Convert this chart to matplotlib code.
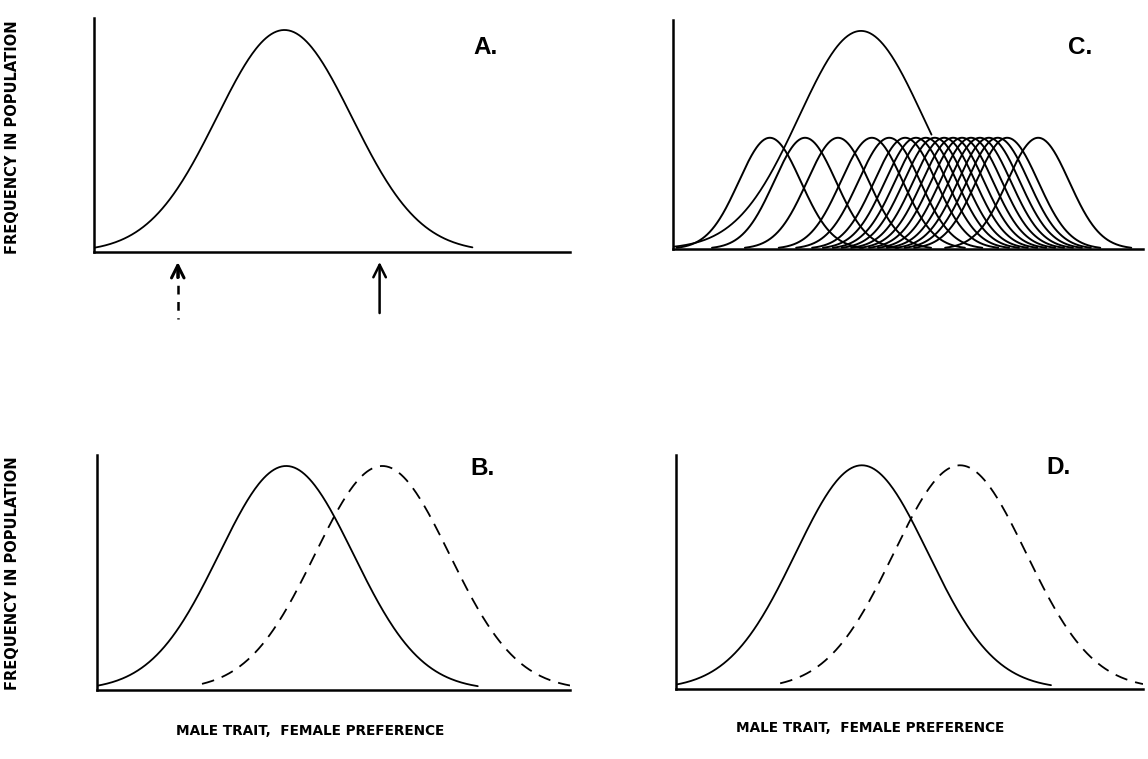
import numpy as np
import matplotlib
matplotlib.use("Agg")
import matplotlib.pyplot as plt

# ---------------- data (trait axis units 0..10, peak height = 1) ----------------
# Panel A: single male-trait distribution
a_center = 4.0
a_sigma = 1.42
a_range = [0.0, 7.95]
arrow_x = [1.76, 6.0]          # dashed arrow, solid arrow
arrow_style = ["dashed", "solid"]

# Panel C: large distribution + many narrow preference curves
c_big_center = 4.0
c_big_sigma = 1.32
c_big_range = [0.0, 5.5]
c_small_height = 0.51
c_small_sigma = 0.66
c_small_centers = [2.06, 2.81, 3.51, 4.23, 4.60, 4.94, 5.17, 5.38, 5.57,
                   5.77, 5.96, 6.15, 6.34, 6.53, 6.72, 6.91, 7.11, 7.77]

# Panel B: male trait (solid) and female preference (dashed)
b_solid_center, b_solid_sigma, b_solid_range = 4.0, 1.42, [0.0, 8.05]
b_dash_center, b_dash_sigma, b_dash_range = 6.03, 1.42, [2.22, 10.0]

# Panel D
d_solid_center, d_solid_sigma, d_solid_range = 3.98, 1.42, [0.0, 8.03]
d_dash_center, d_dash_sigma, d_dash_range = 6.08, 1.42, [2.23, 10.0]

panel_letters = ["A.", "B.", "C.", "D."]
ylabel_text = "FREQUENCY IN POPULATION"
xlabel_text = "MALE TRAIT,  FEMALE PREFERENCE"


def gauss(x, c, s, h=1.0):
    return h * np.exp(-(x - c) ** 2 / (2 * s ** 2))


def curve(ax, c, s, rng, h=1.0, dashed=False, lw=1.3):
    x = np.linspace(rng[0], rng[1], 300)
    kw = dict(color="black", lw=lw, solid_capstyle="round")
    if dashed:
        kw["dashes"] = (7, 4.5)
    ax.plot(x, gauss(x, c, s, h), **kw)


def style(ax, ytop):
    ax.set_xlim(0, 10)
    ax.set_ylim(0, ytop)
    for sp in ["top", "right"]:
        ax.spines[sp].set_visible(False)
    for sp in ["left", "bottom"]:
        ax.spines[sp].set_linewidth(1.8)
    ax.set_xticks([])
    ax.set_yticks([])
    ax.patch.set_alpha(0)


fig = plt.figure(figsize=(11.48, 7.59), dpi=100)

axA = fig.add_axes([94 / 1148, 1 - 252 / 759, 476 / 1148, 234 / 759])
axC = fig.add_axes([673 / 1148, 1 - 249 / 759, 470 / 1148, 229 / 759])
axB = fig.add_axes([97 / 1148, 1 - 690 / 759, 473 / 1148, 235 / 759])
axD = fig.add_axes([676 / 1148, 1 - 689 / 759, 467 / 1148, 234 / 759])

head = "->,head_length=0.9,head_width=0.45"
# Panel A
style(axA, 1.054)
curve(axA, a_center, a_sigma, a_range)
for xa, st in zip(arrow_x, arrow_style):
    tip, tail = -0.045, (-0.30 if st == "dashed" else -0.275)
    if st == "dashed":
        axA.plot([xa, xa], [tip - 0.03, tail], color="black", lw=1.8,
                 dashes=(3.5, 3), clip_on=False)
        axA.annotate("", xy=(xa, tip), xytext=(xa, tip - 0.07),
                     arrowprops=dict(arrowstyle=head, lw=2.2, color="black",
                                     shrinkA=0, shrinkB=0),
                     annotation_clip=False)
    else:
        axA.annotate("", xy=(xa, tip), xytext=(xa, tail),
                     arrowprops=dict(arrowstyle=head, lw=1.8, color="black",
                                     shrinkA=0, shrinkB=0),
                     annotation_clip=False)

# Panel C
style(axC, 1.05)
curve(axC, c_big_center, c_big_sigma, c_big_range)
for c in c_small_centers:
    curve(axC, c, c_small_sigma, [c - 3.0 * c_small_sigma, c + 3.0 * c_small_sigma],
          h=c_small_height, lw=1.4)

# Panel B
style(axB, 1.049)
curve(axB, b_solid_center, b_solid_sigma, b_solid_range)
curve(axB, b_dash_center, b_dash_sigma, b_dash_range, dashed=True)

# Panel D
style(axD, 1.046)
curve(axD, d_solid_center, d_solid_sigma, d_solid_range)
curve(axD, d_dash_center, d_dash_sigma, d_dash_range, dashed=True)

# Panel letters
letter_pos = {"A.": (486, 47), "B.": (482, 469), "C.": (1080, 47), "D.": (1059, 467)}
for lab, (px, py) in letter_pos.items():
    fig.text(px / 1148, 1 - py / 759, lab, ha="center", va="center",
             fontsize=17.5, fontweight="bold", family="Liberation Sans")

# Axis labels
for yc in [137, 573]:
    fig.text(13 / 1148, 1 - yc / 759, ylabel_text, rotation=90, ha="center",
             va="center", fontsize=10.5, fontweight="bold", family="DejaVu Sans")
for xc, yc in [(310, 731), (870, 728)]:
    fig.text(xc / 1148, 1 - yc / 759, xlabel_text, ha="center", va="center",
             fontsize=9.8, fontweight="bold", family="DejaVu Sans")

fig.savefig("out.png", dpi=100)
